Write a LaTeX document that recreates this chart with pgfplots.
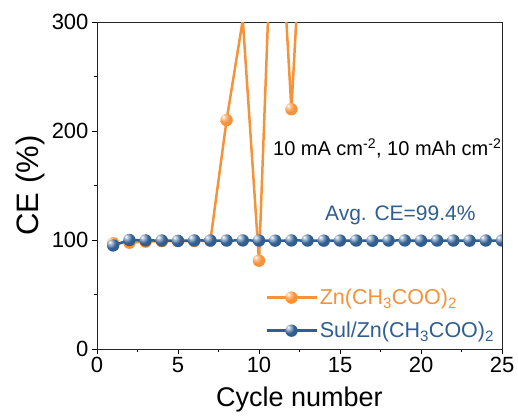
\documentclass[border=0pt]{standalone}
\usepackage{pgfplots}
\pgfplotsset{compat=1.18}
\usepackage{fontspec}
\setmainfont{Liberation Sans}
\definecolor{zncol}{RGB}{245,146,58}
\definecolor{sulcol}{RGB}{48,94,145}

% glossy sphere markers: small highlight, flat body, slightly darker rim
\pgfdeclareradialshading{znball}{\pgfpoint{-14bp}{14bp}}{%
  color(0bp)=(white); color(9bp)=(zncol!55!white); color(22bp)=(zncol);
  color(50bp)=(zncol); color(75bp)=(zncol!80!black); color(100bp)=(zncol!80!black)}
\pgfdeclareradialshading{sulball}{\pgfpoint{-14bp}{14bp}}{%
  color(0bp)=(white); color(9bp)=(sulcol!45!white); color(22bp)=(sulcol);
  color(50bp)=(sulcol); color(75bp)=(sulcol!80!black); color(100bp)=(sulcol!80!black)}
\pgfdeclareplotmark{znball}{%
  \pgfpathcircle{\pgfpointorigin}{\pgfplotmarksize}\pgfshadepath{znball}{0}\pgfusepath{}}
\pgfdeclareplotmark{sulball}{%
  \pgfpathcircle{\pgfpointorigin}{\pgfplotmarksize}\pgfshadepath{sulball}{0}\pgfusepath{}}

\begin{document}
\begin{tikzpicture}
\begin{axis}[
  scale only axis, width=405pt, height=327pt,
  xmin=0, xmax=25, ymin=0, ymax=300,
  xtick={0,5,...,25}, ytick={0,100,200,300},
  minor x tick num=1, minor y tick num=1,
  tick align=outside, tick pos=left,
  major tick length=5pt, minor tick length=3pt,
  axis line style={black!85, line width=0.9pt},
  every tick/.style={black, line width=0.9pt},
  tick label style={font=\fontsize{22}{26}\selectfont},
  /pgf/number format/assume math mode=true,
  xlabel={Cycle number}, ylabel={CE (\%)},
  xlabel style={font=\fontsize{27}{32}\selectfont, yshift=-7pt},
  ylabel style={font=\fontsize{31}{36}\selectfont},
  clip marker paths=true,
  legend cell align=left,
  legend image code/.code={\draw[mark repeat=2,mark phase=2] plot coordinates {(0pt,0pt) (25pt,0pt) (50pt,0pt)};},
  legend style={draw=none, fill=none, at={(rel axis cs:0.415,0.19)}, anchor=north west,
    inner sep=0pt, row sep=12pt, font=\fontsize{21.5}{25}\selectfont},
]
\coordinate (o) at (rel axis cs:0,0);
% bare Zn(CH3COO)2 electrolyte
\addplot[color=zncol, line width=2.5pt, mark=znball, mark size=6.2pt] coordinates {
  (1,97) (2,97.5) (3,98.5) (4,99) (5,99) (6,99) (7,99.5)
  (8,210) (9,302) (10,81) (11,480) (12,220) (13,490)
};
\addlegendentry{\textcolor{zncol}{Zn(CH\textsubscript{3}COO)\textsubscript{2}}}
% Sul/Zn(CH3COO)2 electrolyte
\addplot[color=sulcol, line width=2.5pt, mark=sulball, mark size=6.2pt] coordinates {
  (1,95) (2,100) (3,99.6) (4,99.5) (5,99.2) (6,99.6) (7,99.5) (8,99.5)
  (9,99.6) (10,99.5) (11,99.4) (12,99.6) (13,99.5) (14,99.4) (15,99.5)
  (16,99.5) (17,99.3) (18,99.5) (19,99.6) (20,99.4) (21,99.5) (22,99.5)
  (23,99.4) (24,99.5) (25,99.5)
};
\addlegendentry{\textcolor{sulcol}{Sul/Zn(CH\textsubscript{3}COO)\textsubscript{2}}}
\node[anchor=west, inner sep=0pt, font=\fontsize{20}{24}\selectfont]
  at (axis cs:10.86,184) {10 mA cm\textsuperscript{-2}, 10 mAh cm\textsuperscript{-2}};
\node[anchor=west, inner sep=0pt, text=sulcol, font=\fontsize{21}{25}\selectfont]
  at (axis cs:14.07,123) {Avg. CE=99.4\%};
\end{axis}
\pgfresetboundingbox
\path (o) ++(-97pt,-67pt) rectangle ++(518pt,416pt);
\end{tikzpicture}
\end{document}
